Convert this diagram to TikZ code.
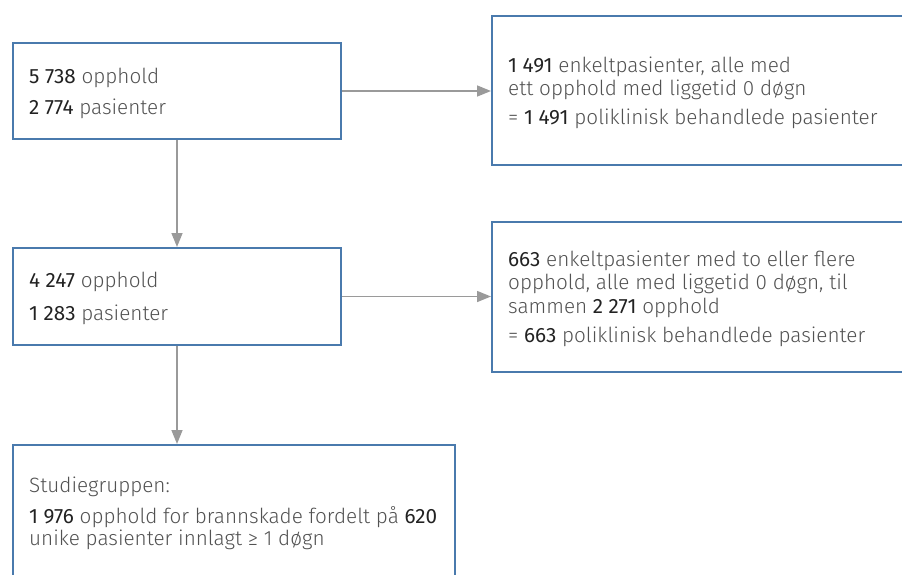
\documentclass[tikz,border=0pt]{standalone}
\usepackage{fontspec}
\setmainfont{Fira Sans}[UprightFont=* Light, BoldFont=*]
\usetikzlibrary{arrows.meta}
\definecolor{boxblue}{HTML}{4A7AAD}
\definecolor{arrgray}{HTML}{9A9A9A}
\definecolor{txtgray}{HTML}{525252}
\definecolor{numdark}{HTML}{222222}
\newcommand\nb[1]{{\bfseries\color{numdark}#1}}
\begin{document}
\begin{tikzpicture}[x=1pt,y=-1pt,
  box/.style={draw=boxblue, line width=2pt, rectangle, inner sep=0pt, anchor=north west},
  txt/.style={anchor=base west, inner sep=0pt, text=txtgray, font=\fontsize{20.7}{23}\selectfont},
  arr/.style={draw=arrgray, line width=1.5pt, -{Triangle[width=11pt,length=14pt]}}]
\useasboundingbox (0,0) rectangle (902,574);
\clip (0,0) rectangle (902,574);
% boxes
\node[box, minimum width=328pt, minimum height=96pt] (b1) at (12,42) {};
\node[box, minimum width=459pt, minimum height=149pt] (b2) at (491,15) {};
\node[box, minimum width=328pt, minimum height=97pt] (b3) at (12,247) {};
\node[box, minimum width=459pt, minimum height=150pt] (b4) at (491,221) {};
\node[box, minimum width=442pt, minimum height=180pt] (b5) at (12,444) {};
% texts
\node[txt] (t1a) at (29,83) {\nb{5 738} opphold};
\node[txt] (t1b) at (29,114) {\nb{2 774} pasienter};
\node[txt] (t2a) at (508,72) {\nb{1 491} enkeltpasienter, alle med};
\node[txt] (t2b) at (508,95) {ett opphold med liggetid 0 døgn};
\node[txt] (t2c) at (508,124) {= \nb{1 491} poliklinisk behandlede pasienter};
\node[txt] (t3a) at (29,287) {\nb{4 247} opphold};
\node[txt] (t3b) at (29,320) {\nb{1 283} pasienter};
\node[txt] (t4a) at (508,266) {\nb{663} enkeltpasienter med to eller flere};
\node[txt] (t4b) at (508,289) {opphold, alle med liggetid 0 døgn, til};
\node[txt] (t4c) at (508,313) {sammen \nb{2 271} opphold};
\node[txt] (t4d) at (508,342) {= \nb{663} poliklinisk behandlede pasienter};
\node[txt] (t5a) at (29,492) {Studiegruppen:};
\node[txt] (t5b) at (29,523) {\nb{1 976} opphold for brannskade fordelt på \nb{620}};
\node[txt] (t5c) at (29,545) {unike pasienter innlagt ≥ 1 døgn};
% arrows
\draw[arr] (b1.south) -- (b3.north);
\draw[arr] (b3.south) -- (b5.north -| b3.south);
\draw[arr] (b1.east) -- (b2.west |- b1.east);
\draw[arr] (b3.east) -- (b4.west |- b3.east);
\end{tikzpicture}
\end{document}
